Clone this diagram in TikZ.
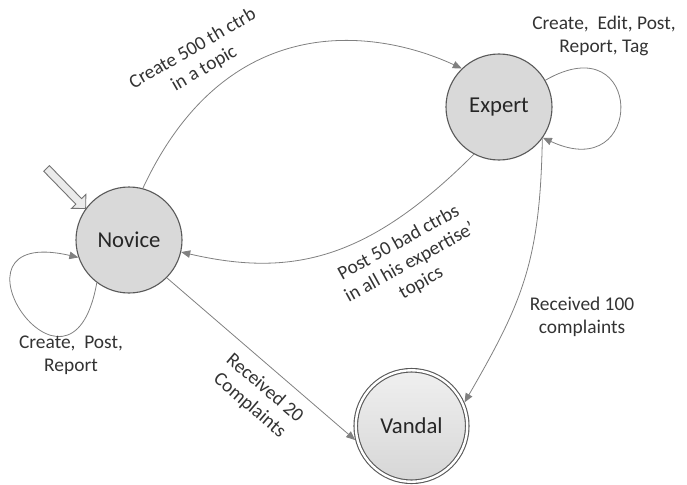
\documentclass[tikz,border=0pt]{standalone}
\usepackage{fontspec}
\setmainfont{Carlito}
\usepackage{tikz}
\usetikzlibrary{arrows.meta}

\begin{document}
\begin{tikzpicture}[x=1pt,y=-1pt,>={Triangle[length=9pt,width=7.5pt]},
  state/.style={circle,draw=black!65,fill=black!15,line width=1.1pt,minimum size=106pt,inner sep=0pt,font=\fontsize{22.7}{27}\selectfont,text=black!85},
  final/.style={state,double,double distance=2.4pt,outer sep=2.3pt,minimum size=111.5pt,top color=black!6,bottom color=black!16},
  trans/.style={->,black!50,line width=0.8pt},
  initarr/.style={draw=black!55,fill=black!8,line width=0.9pt},
  lbl/.style={font=\fontsize{19.4}{23}\selectfont,text=black!80,align=center,inner sep=0pt}]
  \useasboundingbox (0,0) rectangle (687,484);
  \node[state] (novice) at (129,240) {Novice};
  \node[state] (expert) at (499,107) {Expert};
  \node[final] (vandal) at (411.5,426) {Vandal};
  % start marker
  \begin{scope}[shift={(novice.144)},rotate=-45.7]
    \draw[initarr] (0,0) -- (-10,10) -- (-10,4) -- (-56,4) -- (-56,-4) -- (-10,-4) -- (-10,-10) -- cycle;
  \end{scope}
  \draw[trans] (novice.75) .. controls +(65:204pt) and +(155:88pt) .. (expert.134);
  \draw[trans] (expert.242) .. controls +(225:149pt) and +(-13:114pt) .. (novice.-13);
  \draw[trans] (expert.-36) .. controls +(-91:123pt) and +(60:116pt) .. (vandal.24);
  \draw[trans] (novice.-45) -- (vandal.194);
  \draw[trans] (expert.30) .. controls +(30:114pt) and +(-25:114pt) .. (expert.-35);
  \draw[trans] (novice.233) .. controls +(-100:150pt) and +(167:150pt) .. (novice.199);
  % labels
  \node[lbl,rotate=30] (l500) at (198.5,59) {Create 500 th ctrb\\in a topic};
  \node[lbl,rotate=29] (l50) at (410,263) {Post 50 bad ctrbs\\in all his expertise'\\topics};
  \node[lbl] (l100) at (582,317) {Received 100\\complaints};
  \node[lbl,rotate=-40.7] (l20) at (257,397) {Received 20\\Complaints};
  \node[lbl] (lnov) at (71,355) {Create,~~Post,\\Report};
  \node[lbl] (lexp) at (604,36) {Create,~~Edit, Post,\\Report, Tag};
\end{tikzpicture}
\end{document}
